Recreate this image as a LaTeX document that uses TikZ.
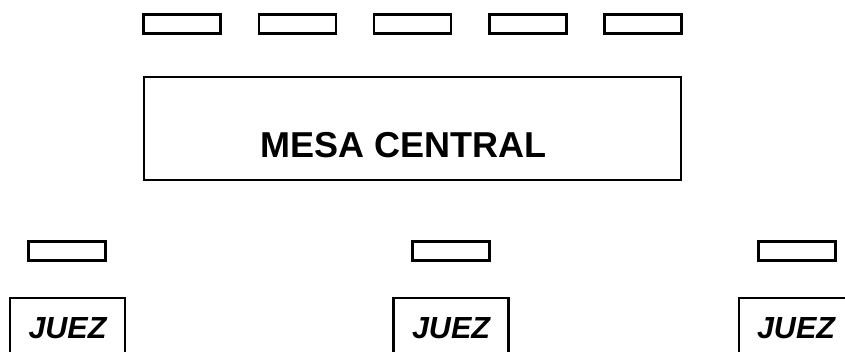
\documentclass[tikz,border=0pt]{standalone}
\usepackage{fontspec}
\setmainfont{Liberation Sans}
\begin{document}
\begin{tikzpicture}[x=1pt,y=-1pt,
  seat/.style={draw, line width=2.2pt, rectangle, minimum width=77pt, minimum height=19pt, inner sep=0pt},
  mesabox/.style={draw, line width=2.2pt, rectangle, minimum width=537pt, minimum height=103pt, inner sep=0pt},
  judgebox/.style={draw, line width=2.2pt, rectangle, minimum width=115pt, minimum height=120pt, inner sep=0pt, anchor=north},
  judgetext/.style={anchor=base, inner sep=0pt, font=\fontsize{30.5}{30.5}\selectfont\bfseries\itshape},
  mesatext/.style={anchor=base, inner sep=0pt, font=\fontsize{36}{36}\selectfont\bfseries}]
\clip (0,0) rectangle (845,352);
\fill[white] (0,0) rectangle (845,352);
% top seats
\node[seat] (t1) at (182,24) {};
\node[seat] (t2) at (297.5,24) {};
\node[seat] (t3) at (412.5,24) {};
\node[seat] (t4) at (528,24) {};
\node[seat] (t5) at (643,24) {};
% central table
\node[mesabox] (mesa) at (412.5,128.5) {};
\node[mesatext] (mesalabel) at (403.5,157.5) {MESA CENTRAL};
% judge seats
\node[seat] (s1) at (67,251) {};
\node[seat] (s2) at (451,251) {};
\node[seat] (s3) at (797,251) {};
% judge boxes
\node[judgebox] (j1) at (67.5,297) {};
\node[judgebox] (j2) at (451,297) {};
\node[judgebox] (j3) at (796.5,297) {};
\node[judgetext] (l1) at (67.5,338) {JUEZ};
\node[judgetext] (l2) at (451,338) {JUEZ};
\node[judgetext] (l3) at (796,338) {JUEZ};
\end{tikzpicture}
\end{document}
